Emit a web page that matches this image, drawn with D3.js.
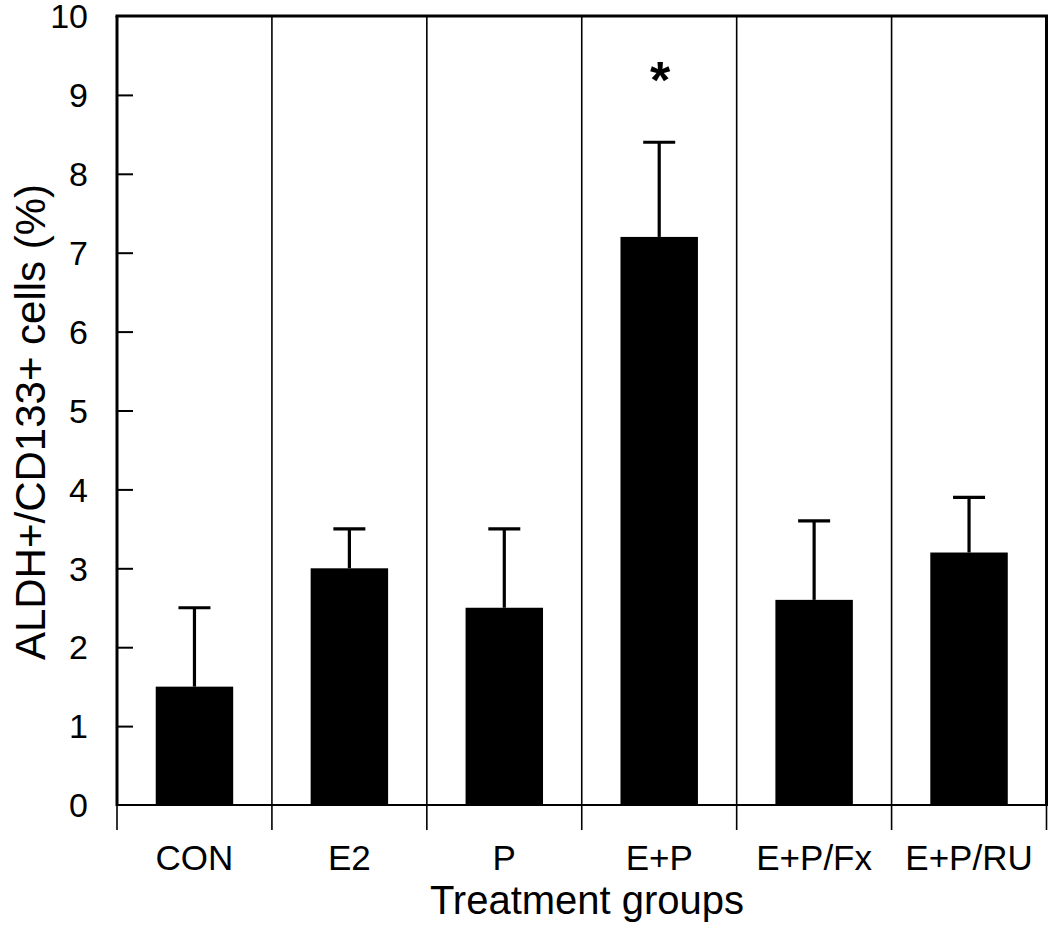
<!DOCTYPE html>
<html>
<head>
<meta charset="utf-8">
<script src="https://cdn.jsdelivr.net/npm/d3@7/dist/d3.min.js"></script>
<style>
  html, body { margin: 0; padding: 0; background: #fff; }
  svg { display: block; }
  text { font-family: "Liberation Sans", Arial, Helvetica, sans-serif; fill: #000; }
</style>
</head>
<body>
<svg id="chart" width="1050" height="934"></svg>
<script>
const categories = ["CON", "E2", "P", "E+P", "E+P/Fx", "E+P/RU"];
const means = [1.5, 3.0, 2.5, 7.2, 2.6, 3.2];
const errors = [1.0, 0.5, 1.0, 1.2, 1.0, 0.7];
const significant = ["E+P"];
const yTicks = [0, 1, 2, 3, 4, 5, 6, 7, 8, 9, 10];
const xTitle = "Treatment groups";
const yTitle = "ALDH+/CD133+ cells (%)";

(function () {
const svg = d3.select("#chart");
const pLeft = 117, pRight = 1046.5, pTop = 16, pBottom = 805;

const x = d3.scaleBand().domain(categories).range([pLeft, pRight]).paddingInner(0).paddingOuter(0);
const y = d3.scaleLinear().domain([0, 10]).range([pBottom, pTop]);

const barW = x.bandwidth() * 0.5;

// separators (full height)
const edges = categories.map(c => x(c)).concat([pRight]);
svg.append("g").selectAll("line").data(edges.slice(1, -1)).join("line")
  .attr("x1", d => d).attr("x2", d => d)
  .attr("y1", pTop).attr("y2", pBottom)
  .attr("stroke", "#000").attr("stroke-width", 1.6);

// bars
svg.append("g").selectAll("rect").data(categories).join("rect")
  .attr("x", (c) => x(c) + (x.bandwidth() - barW) / 2)
  .attr("width", barW)
  .attr("y", (c, i) => y(means[i]))
  .attr("height", (c, i) => y(0) - y(means[i]))
  .attr("fill", "#000");

// error bars
const eg = svg.append("g");
categories.forEach((c, i) => {
  const cx = x(c) + x.bandwidth() / 2;
  eg.append("line").attr("x1", cx).attr("x2", cx)
    .attr("y1", y(means[i])).attr("y2", y(means[i] + errors[i]))
    .attr("stroke", "#000").attr("stroke-width", 3.2);
  eg.append("line").attr("x1", cx - 16).attr("x2", cx + 16)
    .attr("y1", y(means[i] + errors[i])).attr("y2", y(means[i] + errors[i]))
    .attr("stroke", "#000").attr("stroke-width", 3.2);
});

// significance marks
categories.forEach((c, i) => {
  if (significant.includes(c)) {
    svg.append("text")
      .attr("x", x(c) + x.bandwidth() / 2 + 1)
      .attr("y", y(means[i] + errors[i]) - 44)
      .attr("text-anchor", "middle")
      .attr("font-size", 52).attr("font-weight", "bold")
      .text("*");
  }
});

// y axis (inward ticks)
const yAxis = d3.axisRight(y).tickValues(yTicks.filter(t => t > 0 && t < 10)).tickSize(16).tickFormat("");
const yg = svg.append("g").attr("transform", `translate(${pLeft},0)`).call(yAxis);
yg.select(".domain").remove();
yg.selectAll(".tick line").attr("stroke", "#000").attr("stroke-width", 2);

// y tick labels
svg.append("g").selectAll("text").data(yTicks).join("text")
  .attr("x", 88).attr("y", d => y(d))
  .attr("dy", "0.36em")
  .attr("text-anchor", "end")
  .attr("font-size", 34)
  .text(d => d);

// x axis ticks at separators (outward)
svg.append("g").selectAll("line").data(edges).join("line")
  .attr("x1", d => d).attr("x2", d => d)
  .attr("y1", pBottom).attr("y2", 830)
  .attr("stroke", "#000").attr("stroke-width", 1.6);

// frame
svg.append("line").attr("x1", pLeft).attr("x2", pRight).attr("y1", pBottom).attr("y2", pBottom)
  .attr("stroke", "#000").attr("stroke-width", 2.2);
svg.append("line").attr("x1", pLeft - 1.5).attr("x2", pRight + 1.5).attr("y1", pTop).attr("y2", pTop)
  .attr("stroke", "#000").attr("stroke-width", 3);
svg.append("line").attr("x1", pLeft).attr("x2", pLeft).attr("y1", pTop).attr("y2", pBottom + 1)
  .attr("stroke", "#000").attr("stroke-width", 3);
svg.append("line").attr("x1", pRight).attr("x2", pRight).attr("y1", pTop).attr("y2", pBottom + 1)
  .attr("stroke", "#000").attr("stroke-width", 3);

// category labels
svg.append("g").selectAll("text").data(categories).join("text")
  .attr("x", c => x(c) + x.bandwidth() / 2)
  .attr("y", 870)
  .attr("text-anchor", "middle")
  .attr("font-size", 35)
  .text(c => c);

// axis titles
svg.append("text").attr("x", 587).attr("y", 914)
  .attr("text-anchor", "middle").attr("font-size", 40).text(xTitle);
svg.append("text")
  .attr("transform", `translate(45,${422}) rotate(-90)`)
  .attr("text-anchor", "middle").attr("font-size", 42).text(yTitle);
})();
</script>
</body>
</html>
